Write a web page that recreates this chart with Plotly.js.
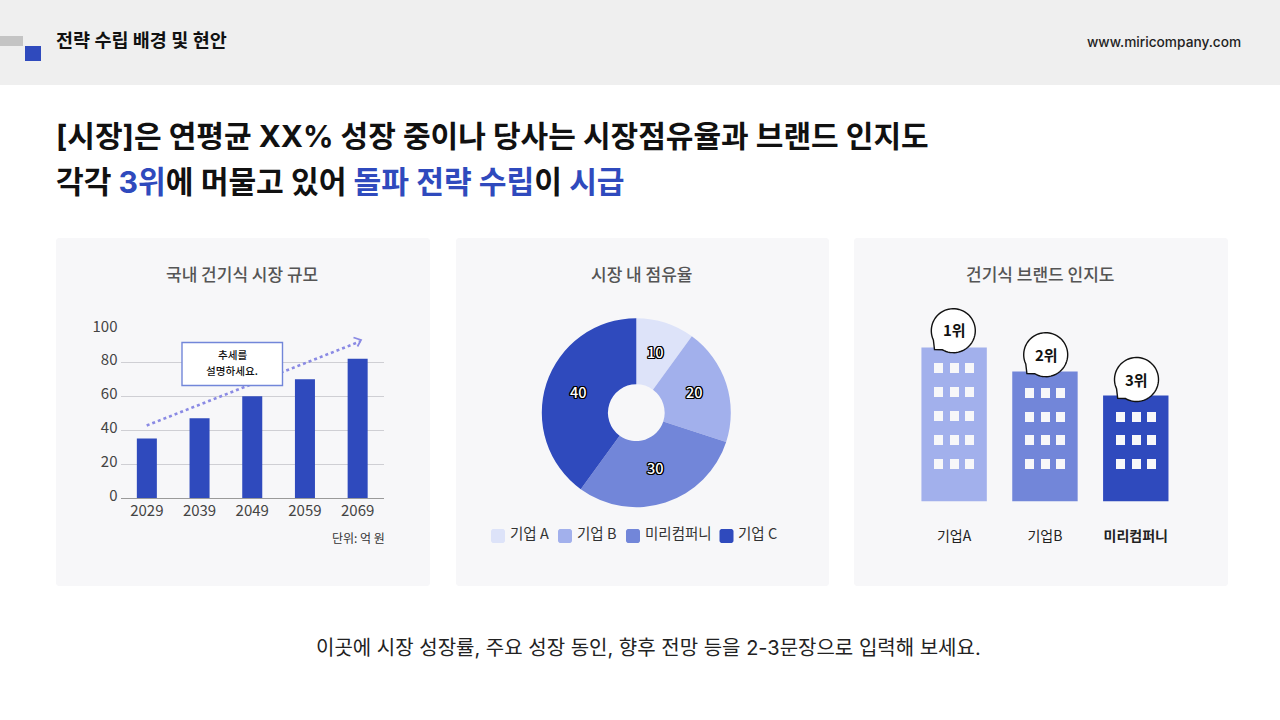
<!DOCTYPE html>
<html><head><meta charset="utf-8">
<script src="https://cdn.plot.ly/plotly-3.0.1.min.js"></script>
<style>html,body{margin:0;padding:0;background:#fff}#c{width:1280px;height:720px}</style>
</head><body><div id="c"></div>
<script>
const years = ['2029','2039','2049','2059','2069'];
const marketSize = [35,47,60,70,82];
const shareLabels = ['기업 A','기업 B','미리컴퍼니','기업 C'];
const shareValues = [10,20,30,40];
const shareColors = ['#dde3f9','#a2b0ec','#7286d9','#2f4abd'];
const brandLabels = ['기업A','기업B','<b>미리컴퍼니</b>'];
const brandScores = [77,65,53];
const brandColors = ['#a2b0ec','#7286d9','#2f4abd'];
const brandRanks = ['1위','2위','3위'];
const cardTitles = ['국내 건기식 시장 규모','시장 내 점유율','건기식 브랜드 인지도'];

const W=1280,H=720;
const CARD='#f7f7f9';
const px=x=>x/W, py=y=>1-y/H;
const FONT='Inter, "Noto Sans CJK KR", sans-serif';
const KR='"Noto Sans CJK KR", sans-serif';

function rect(x0,y0,x1,y1,fill,extra){return Object.assign({type:'rect',xref:'paper',yref:'paper',x0:px(x0),x1:px(x1),y0:py(y1),y1:py(y0),fillcolor:fill,line:{width:0},layer:'below'},extra||{});}
function pathOf(pts,close){return 'M'+pts.map(p=>px(p[0]).toFixed(5)+','+py(p[1]).toFixed(5)).join('L')+(close?'Z':'');}
function rrect(x0,y0,x1,y1,r){const p=[];const c=[[x1-r,y0+r,-90],[x1-r,y1-r,0],[x0+r,y1-r,90],[x0+r,y0+r,180]];
  c.forEach(([cx,cy,a])=>{for(let i=0;i<=6;i++){const t=(a+i*15)*Math.PI/180;p.push([cx+r*Math.cos(t),cy+r*Math.sin(t)]);}});return pathOf(p,true);}
function bubble(cx,cy,r,tip){const p=[];const a0=155,a1=120;
  for(let i=0;i<=60;i++){const t=(a0+i*(360-(a0-a1))/60)*Math.PI/180;p.push([cx+r*Math.cos(t),cy+r*Math.sin(t)]);}
  p.push(tip);return pathOf(p,true);}

const shapes=[];
shapes.push(rect(0,0,1280,85,'#efefef'));
shapes.push(rect(0,36,23,46,'#c4c4c4'));
shapes.push(rect(25,46,41,61,'#2f4abd'));
[[56,238,430,586],[456,238,829,586],[854,238,1228,586]].forEach(c=>{
  shapes.push({type:'path',xref:'paper',yref:'paper',path:rrect(c[0],c[1],c[2],c[3],3),fillcolor:CARD,line:{width:0},layer:'below'});
});
shapes.push({type:'line',xref:'paper',yref:'paper',x0:px(146.7),y0:py(425.5),x1:px(360),y1:py(341.5),line:{color:'#8a8ae4',width:2.6,dash:'dot'},layer:'above'});
shapes.push({type:'path',xref:'paper',yref:'paper',path:pathOf([[353.5,337.5],[361,340],[357.5,346.5]]),line:{color:'#8a8ae4',width:1.8},fillcolor:'rgba(0,0,0,0)',layer:'above'});
shapes.push(rect(182,342.5,282.5,385.5,'#ffffff',{line:{color:'#7286d9',width:1.4},layer:'above'}));
const winCols=[[934,950,965],[1025,1041,1056],[1116,1132,1147]];
const winRows=[[363,387,411,435,459],[388,412,435,459],[412,435,459]];
winCols.forEach((cols,b)=>cols.forEach(x=>winRows[b].forEach(y=>shapes.push(rect(x,y,x+9,y+10,CARD,{layer:'above'})))));
[[953.3,330.7,[934.5,349.5]],[1045.7,354.7,[1026.9,373.5]],[1136.5,379.5,[1117.7,398.3]]].forEach(b=>{
  shapes.push({type:'path',xref:'paper',yref:'paper',path:bubble(b[0],b[1],22,b[2]),fillcolor:'#ffffff',line:{color:'#111111',width:1.4},layer:'above'});
});
const swX=[491,558,626,719.5];
swX.forEach((x,i)=>shapes.push({type:'path',xref:'paper',yref:'paper',path:rrect(x,529,x+14,543,2.5),fillcolor:shareColors[i],line:{width:0},layer:'above'}));

function ann(x,y,text,size,color,opt){return Object.assign({xref:'paper',yref:'paper',x:px(x),y:py(y),text:text,showarrow:false,xanchor:'left',yanchor:'middle',font:{family:FONT,size:size,color:color},borderpad:0,borderwidth:0},opt||{});}
const BLUE='#2f4abd';
const s=t=>`<span style="color:${BLUE}">${t}</span>`;
const annotations=[
  ann(56,40,'<b>전략 수립 배경 및 현안</b>',18.5,'#111'),
  ann(1240.5,42,'www.miricompany.com',13.7,'#222',{xanchor:'right',font:{family:FONT,size:13.7,color:'#222',weight:500}}),
  ann(56,135.5,'<b>[시장]은 연평균 XX% 성장 중이나 당사는 시장점유율과 브랜드 인지도</b>',30.04,'#111'),
  ann(56,182,'<b>각각 '+s('3위')+'에 머물고 있어 '+s('돌파 전략 수립')+'이 '+s('시급')+'</b>',30.15,'#111'),
  ann(648,648,'이곳에 시장 성장률, 주요 성장 동인, 향후 전망 등을 2-3문장으로 입력해 보세요.',20,'#222',{xanchor:'center'}),
  ann(385,537.5,'단위: 억 원',12,'#333',{xanchor:'right',font:{family:KR,size:12,color:'#333'}}),
  ann(232,354.5,'추세를',10.6,'#111',{xanchor:'center',font:{family:KR,size:10.6,color:'#111',weight:500}}),
  ann(232,371,'설명하세요.',10.6,'#111',{xanchor:'center',font:{family:KR,size:10.6,color:'#111',weight:500}}),
];
[242,642,1040].forEach((x,i)=>annotations.push(ann(x,273,cardTitles[i],17,'#555',{xanchor:'center',font:{family:KR,size:17,color:'#555',weight:500}})));
const lgX=[510,577,645,738];
shareLabels.forEach((t,i)=>annotations.push(ann(lgX[i],532.5,t,14.5,'#333',{font:{family:KR,size:14.5,color:'#333'}})));
const bbl=[[954.3,330],[1046.2,354],[1136.5,379.5]];
brandRanks.forEach((t,i)=>annotations.push(ann(bbl[i][0],bbl[i][1],'<b>'+t+'</b>',15,'#111',{xanchor:'center',font:{family:KR,size:15,color:'#111',weight:600}})));

const pieC=[636.3,412.7],ringR=61;
const outline='-1.1px -1.1px 0 #000,1.1px -1.1px 0 #000,-1.1px 1.1px 0 #000,1.1px 1.1px 0 #000,0 -1.3px 0 #000,0 1.3px 0 #000,-1.3px 0 0 #000,1.3px 0 0 #000';
const total=shareValues.reduce((a,b)=>a+b,0);
let cum=0;
shareValues.forEach(v=>{const mid=(cum+v/2)/total*2*Math.PI;cum+=v;
  annotations.push(ann(pieC[0]+ringR*Math.sin(mid),pieC[1]-ringR*Math.cos(mid)-2.8,String(v),14.5,'#fff',{xanchor:'center',font:{family:KR,size:14.5,color:'#fff',weight:500,shadow:outline}}));
});

const traces=[
 {type:'bar',x:years,y:marketSize,xaxis:'x',yaxis:'y',marker:{color:BLUE,line:{width:0}},width:0.38,hoverinfo:'x+y',showlegend:false},
 {type:'scatter',x:[years[0]],y:[null],xaxis:'x',yaxis:'y3',mode:'markers',hoverinfo:'skip',showlegend:false},
 {type:'pie',labels:shareLabels,values:shareValues,sort:false,direction:'clockwise',rotation:0,hole:0.3,
  marker:{colors:shareColors,line:{width:0}},textinfo:'none',showlegend:false,
  domain:{x:[px(pieC[0]-94.5),px(pieC[0]+94.5)],y:[py(pieC[1]+94.5),py(pieC[1]-94.5)]}},
 {type:'bar',x:brandLabels,y:brandScores,xaxis:'x2',yaxis:'y2',marker:{color:brandColors,line:{width:0}},width:0.72,hoverinfo:'x+y',showlegend:false},
];
const layout={
 width:W,height:H,margin:{l:0,r:0,t:0,b:0},paper_bgcolor:'#fff',plot_bgcolor:'rgba(0,0,0,0)',showlegend:false,
 font:{family:FONT},shapes:shapes,annotations:annotations,
 xaxis:{domain:[px(120.5),px(384)],type:'category',categoryorder:'array',categoryarray:years,showgrid:false,zeroline:false,showline:false,ticks:'',ticklabelstandoff:2,
   tickfont:{family:KR,size:15,color:'#444'},anchor:'y',fixedrange:true},
 yaxis:{domain:[py(498),py(328.3)],range:[0,100],tickvals:[0,20,40,60,80,100],showticklabels:false,showgrid:true,gridcolor:'#cfcfd4',gridwidth:1,zeroline:true,zerolinecolor:'#9a9a9a',zerolinewidth:1.2,showline:false,ticks:'',
   anchor:'x',fixedrange:true},
 yaxis3:{domain:[py(496),py(326.3)],range:[0,100],tickvals:[0,20,40,60,80,100],showgrid:false,zeroline:false,showline:false,ticks:'',ticklabelstandoff:2,
   tickfont:{family:KR,size:15,color:'#444'},anchor:'x',fixedrange:true},
 xaxis2:{domain:[px(908.7),px(1181.2)],type:'category',categoryorder:'array',categoryarray:brandLabels,showgrid:false,zeroline:false,showline:false,ticks:'',ticklabelstandoff:24,
   tickfont:{family:KR,size:14,color:'#222'},anchor:'y2',fixedrange:true},
 yaxis2:{domain:[py(501.5),py(301.5)],range:[0,100],visible:false,anchor:'x2',fixedrange:true},
};
Plotly.newPlot('c',traces,layout,{displayModeBar:false,responsive:false});
</script></body></html>
